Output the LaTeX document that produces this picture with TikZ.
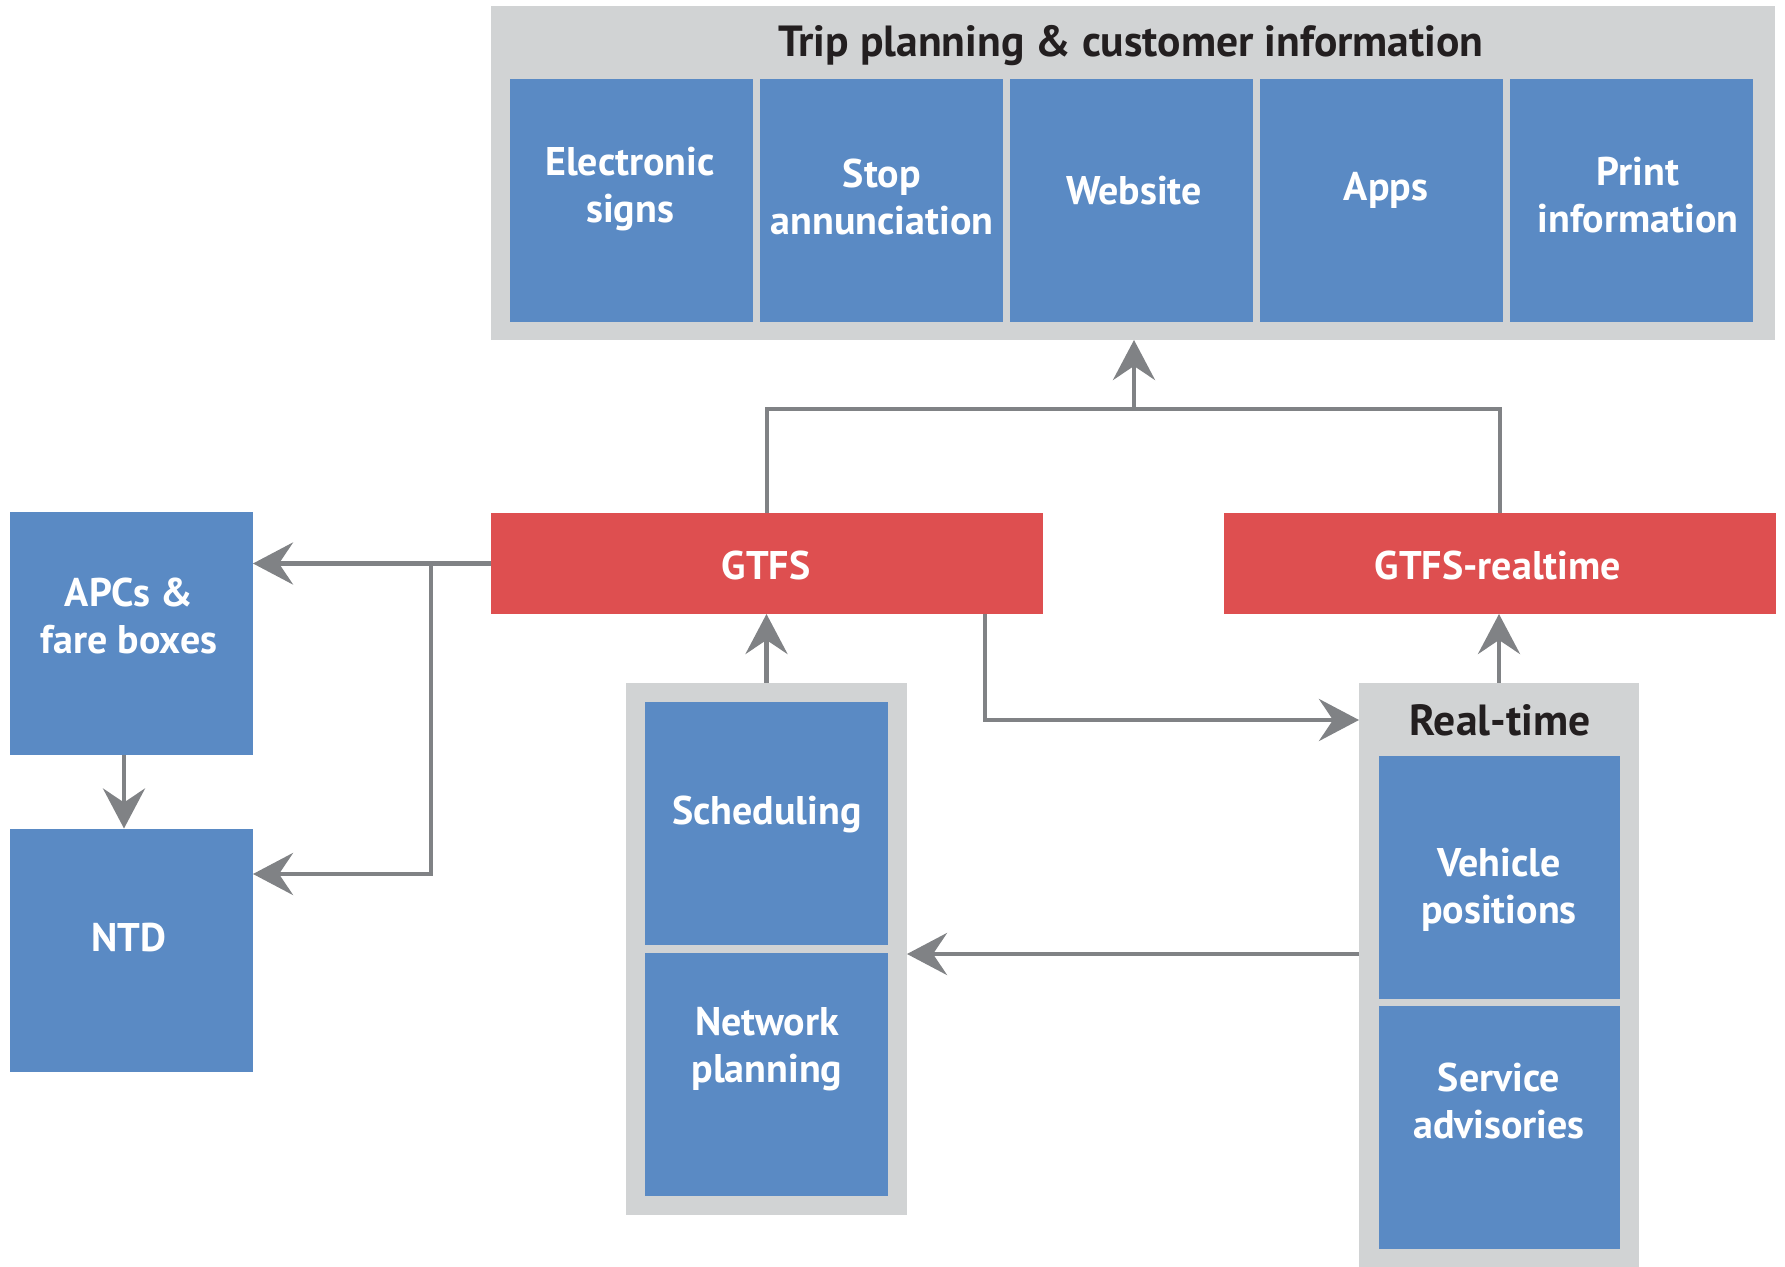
\documentclass[tikz,border=0pt]{standalone}
\usepackage{fontspec}
\setmainfont{PT Sans}
\usetikzlibrary{arrows.meta}
\definecolor{bbox}{HTML}{5A8AC4}
\definecolor{rbox}{HTML}{DE4F50}
\definecolor{gbox}{HTML}{D1D3D4}
\definecolor{arr}{HTML}{808285}
\definecolor{ttl}{HTML}{231F20}
\tikzset{
  blk/.style={fill=bbox, draw=none, inner sep=0pt, outer sep=0pt, minimum width=121.5pt, minimum height=121.5pt},
  redbox/.style={fill=rbox, draw=none, inner sep=0pt, outer sep=0pt, minimum width=276pt, minimum height=50.5pt},
  greybox/.style={fill=gbox, draw=none, inner sep=0pt, outer sep=0pt},
  lbl/.style={text=white, font=\bfseries\fontsize{20}{23.5}\selectfont, align=center, inner sep=0pt},
  ttlstyle/.style={text=ttl, font=\bfseries\fontsize{21.8}{26}\selectfont, align=center, inner sep=0pt},
  conn/.style={draw=arr, line width=2.3pt},
  tip/.style={-{Stealth[length=20pt,width=21pt,inset=7pt]}}
}
\begin{document}
\begin{tikzpicture}[x=0.5pt,y=-0.5pt]
\useasboundingbox (0,0) rectangle (1785,1267);
% top group
\node[greybox, minimum width=642pt, minimum height=167pt] (trip) at (1133,173) {};
\node[ttlstyle] (triptitle) at (1131,46) {Trip planning \& customer information};
\node[blk] (es) at (631.5,200.5) {};
\node[blk] (sa) at (881.5,200.5) {};
\node[blk] (ws) at (1131.5,200.5) {};
\node[blk] (ap) at (1381.5,200.5) {};
\node[blk] (pi) at (1631.5,200.5) {};
\node[lbl] (esl) at (630,189) {Electronic\\signs};
\node[lbl] (sal) at (882,197) {Stop\\annunciation};
\node[lbl] (wsl) at (1134,191) {Website};
\node[lbl] (apl) at (1386,190) {Apps};
\node[lbl] (pil) at (1638,195) {Print\\information};
% red boxes
\node[redbox] (gtfs) at (767,563.5) {};
\node[lbl] (gtfsl) at (766,566) {GTFS};
\node[redbox] (rt) at (1500,563.5) {};
\node[lbl] (rtl) at (1498,566) {GTFS-realtime};
% left boxes
\node[blk] (apc) at (131.5,633.5) {};
\node[lbl] (apcl) at (129,616) {APCs \&\\fare boxes};
\node[blk] (ntd) at (131.5,950) {};
\node[lbl] (ntdl) at (129,938) {NTD};
% scheduling group
\node[greybox, minimum width=140.5pt, minimum height=266pt] (sg) at (766.5,949) {};
\node[blk] (sch) at (766.5,823.5) {};
\node[blk] (np) at (766.5,1074) {};
\node[lbl] (schl) at (767,814) {Scheduling};
\node[lbl] (npl) at (767,1049) {Network\\planning};
% realtime group
\node[greybox, minimum width=140pt, minimum height=292pt] (rg) at (1499,975) {};
\node[ttlstyle] (rgl) at (1500,720) {Real-time};
\node[blk, minimum width=120.5pt] (vp) at (1499.5,877) {};
\node[blk, minimum width=120.5pt] (sv) at (1499.5,1127.5) {};
\node[lbl] (vpl) at (1499,890) {Vehicle\\positions};
\node[lbl] (svl) at (1499,1101) {Service\\advisories};
% connectors
\coordinate (jl) at (767,409);
\coordinate (jr) at (1500,409);
\coordinate (jm) at (1134,409);
\draw[conn] (gtfs.north) -- (jl) -- (jr) -- (rt.north);
\draw[conn,tip] (jm) -- (trip.south -| jm);
\draw[conn,tip] (gtfs.west) -- (gtfs.west -| apc.east);
\coordinate (br) at (431,563.5);
\coordinate (brd) at (431,874);
\draw[conn,tip] (br) -- (brd) -- (brd -| ntd.east);
\coordinate (a1) at (124,755);
\draw[conn,tip] (a1) -- (a1 |- ntd.north);
\draw[conn,tip] (sg.north) -- (gtfs.south -| sg.north);
\coordinate (g2) at (985,614);
\coordinate (g2d) at (985,720);
\draw[conn,tip] (g2) -- (g2d) -- (g2d -| rg.west);
\draw[conn,tip] (rg.north) -- (rt.south -| rg.north);
\coordinate (rw) at (1359,954);
\draw[conn,tip] (rw) -- (rw -| sg.east);
\end{tikzpicture}
\end{document}
